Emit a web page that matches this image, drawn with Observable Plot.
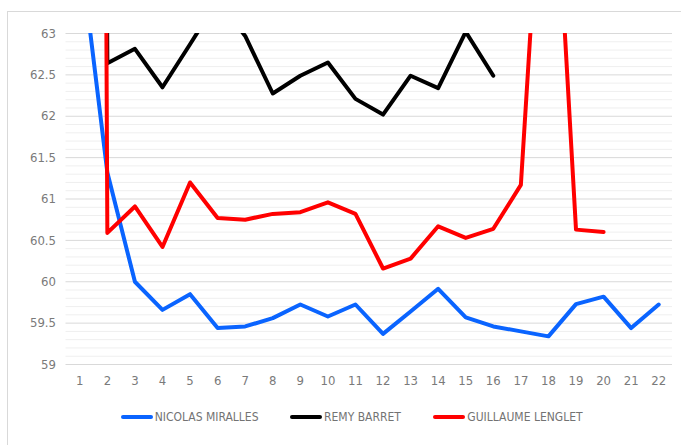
<!DOCTYPE html>
<html>
<head>
<meta charset="utf-8">
<script src="https://cdn.jsdelivr.net/npm/d3@7"></script>
<script src="https://cdn.jsdelivr.net/npm/@observablehq/plot@0.6"></script>
<style>
  html, body { margin: 0; padding: 0; background: #fff; overflow: hidden; }
  body { width: 681px; height: 445px; position: relative; font-family: "Liberation Sans Narrow", "DejaVu Sans Condensed", "Roboto", sans-serif; }
  #frame { position: absolute; left: 7px; top: 11px; width: 720px; height: 470px; border: 1px solid #d9d9d9; box-sizing: border-box; }
  #chart { position: absolute; left: 0; top: 0; }
  #legend { position: absolute; left: 0; top: 407px; width: 681px; height: 20px; font-size: 12px; color: #737373; }
  .item { position: absolute; top: 0; display: flex; align-items: center; gap: 2px; height: 20px; white-space: nowrap; }
  .sw { width: 32px; height: 4px; border-radius: 2px; }
</style>
</head>
<body>
<div id="frame"></div>
<div id="chart"></div>
<div id="legend"></div>
<script>
const xLabels = [1, 2, 3, 4, 5, 6, 7, 8, 9, 10, 11, 12, 13, 14, 15, 16, 17, 18, 19, 20, 21, 22];
const yMajorTicks = [59, 59.5, 60, 60.5, 61, 61.5, 62, 62.5, 63];
const seriesNames = ["NICOLAS MIRALLES", "REMY BARRET", "GUILLAUME LENGLET"];
const seriesColors = ["#0a64ff", "#000000", "#ff0000"];

const nicolas = [64.05, 61.32, 60.0, 59.66, 59.85, 59.44, 59.46, 59.56, 59.725, 59.58, 59.725, 59.37, 59.64, 59.915, 59.57, 59.46, 59.40, 59.34, 59.73, 59.82, 59.44, 59.725];
const remy = [120, 62.64, 62.815, 62.35, 62.87, 63.4, 62.97, 62.275, 62.49, 62.65, 62.21, 62.02, 62.49, 62.34, 63.02, 62.49, null, null, null, null, null, null];
const guillaume = [130, 60.59, 60.91, 60.42, 61.20, 60.77, 60.75, 60.82, 60.84, 60.96, 60.82, 60.16, 60.28, 60.67, 60.53, 60.64, 61.17, 66.5, 60.63, 60.60, null, null];

const allSeries = [nicolas, remy, guillaume];
const legendLeft = [120.7, 290, 433.3];
const yMinorTicks = d3.range(59, 63.001, 0.1).map(v => Math.round(v * 10) / 10).filter(v => !yMajorTicks.includes(v));

const lineMarks = allSeries.map((vals, i) => {
  const rows = xLabels.map((x, j) => ({x, y: vals[j]})).filter(d => d.y != null);
  return Plot.line(rows, {
    x: "x", y: "y", stroke: seriesColors[i], strokeWidth: 4,
    strokeLinejoin: "round", strokeLinecap: "round", clip: true
  });
});

const plot = Plot.plot({
  width: 681,
  height: 395,
  marginLeft: 65.5,
  marginRight: 9,
  marginTop: 33,
  marginBottom: 31,
  style: { fontFamily: '"Liberation Sans Narrow", "DejaVu Sans Condensed", Roboto, sans-serif', fontSize: "13px", color: "#7a7a7a", background: "transparent" },
  x: { type: "point", domain: xLabels, padding: 0.5, round: false },
  y: { domain: [59, 63] },
  marks: [
    Plot.ruleY(yMinorTicks, { stroke: "#efefef", strokeWidth: 1 }),
    Plot.ruleY(yMajorTicks, { stroke: "#d9d9d9", strokeWidth: 1 }),
    Plot.axisY(yMajorTicks, { tickSize: 0, tickPadding: 10, tickFormat: d => String(d), label: null }),
    Plot.axisX(xLabels, { tickSize: 0, tickPadding: 11, tickFormat: d => String(d), label: null }),
    ...lineMarks
  ]
});
document.getElementById("chart").appendChild(plot);

const legend = document.getElementById("legend");
seriesNames.forEach((name, i) => {
  const item = document.createElement("div");
  item.className = "item";
  item.style.left = legendLeft[i] + "px";
  const sw = document.createElement("div");
  sw.className = "sw";
  sw.style.background = seriesColors[i];
  const t = document.createElement("span");
  t.textContent = name;
  item.appendChild(sw);
  item.appendChild(t);
  legend.appendChild(item);
});
</script>
</body>
</html>
